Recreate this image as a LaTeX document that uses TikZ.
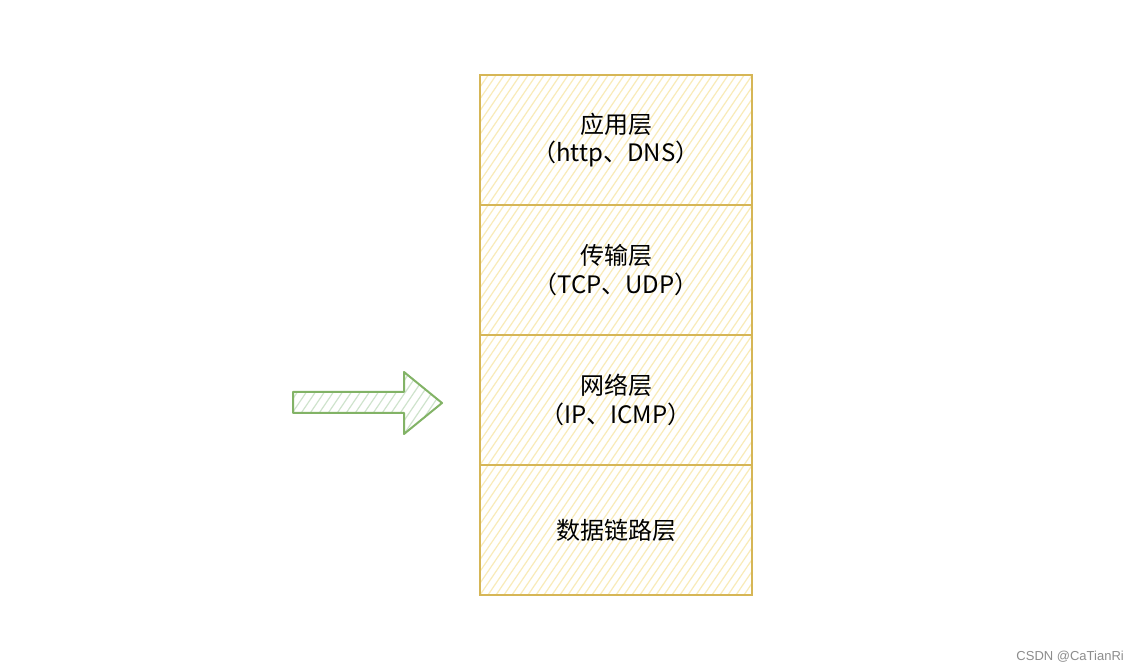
\documentclass[tikz,border=0pt]{standalone}
\usepackage{fontspec}
\setmainfont{Noto Sans CJK SC}
\newfontfamily\markfont{Liberation Sans}
\usepackage{xcolor}
\usetikzlibrary{positioning}
\definecolor{layerline}{HTML}{D6B656}
\definecolor{layerhatch}{HTML}{F9EBB8}
\definecolor{arrowline}{HTML}{82B366}
\definecolor{arrowhatch}{HTML}{CFE3CC}
\tikzset{
    hatch/.style={line width=1.2pt, line cap=round},
    layer/.style={rectangle, draw=layerline, line width=1.8pt, fill=white, minimum width=272pt, minimum height=130pt,
        align=center, inner sep=0pt, outer sep=0pt, font=\fontsize{24}{28.8}\selectfont,
        path picture={\foreach \d in {-160,-152,...,300}
            \draw[hatch, layerhatch] ([xshift=\d pt]path picture bounding box.south west) -- ++(95,140);}},
    bigarrow/.style={draw=arrowline, line width=2pt, fill=white, line join=round,
        path picture={\foreach \d in {-60,-51,...,160}
            \draw[hatch, arrowhatch] ([xshift=\d pt]path picture bounding box.south west) -- ++(42,62);}},
    watermark/.style={font=\markfont\fontsize{13}{15}\selectfont, text=black!45, inner sep=0pt}
}
\begin{document}
\begin{tikzpicture}[x=1pt, y=1pt]
    \useasboundingbox (0,0) rectangle (1136,672);
    % layers
    \node[layer] (app) at (616,532) {应用层\\（http、DNS）};
    \node[layer, below=0pt of app] (trans) {传输层\\（TCP、UDP）};
    \node[layer, below=0pt of trans] (net) {网络层\\（IP、ICMP）};
    \node[layer, below=0pt of net] (link) {数据链路层};

    % arrow pointing at the stack
    \draw[bigarrow] (293,280) -- (404,280) -- (404,300) -- (442,269) -- (404,238) -- (404,259) -- (293,259) -- cycle;

    \node[watermark, anchor=east] (wm) at (1124,15) {CSDN @CaTianRi};
\end{tikzpicture}
\end{document}
